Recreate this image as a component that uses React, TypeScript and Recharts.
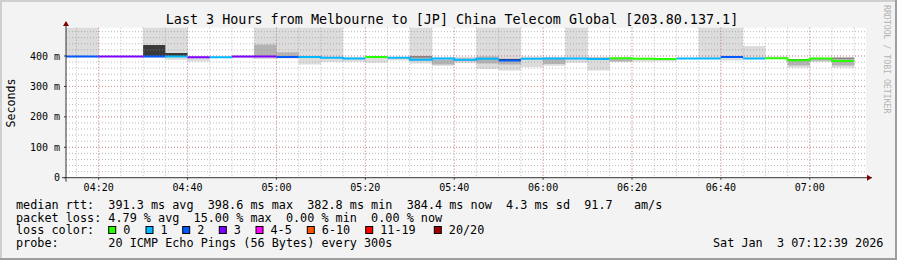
import React from 'react';
import {
  Area,
  CartesianGrid,
  ComposedChart,
  Line,
  ReferenceDot,
  ReferenceLine,
  XAxis,
  YAxis,
} from 'recharts';

const W = 897;
const H = 260;
const MONO = '"DejaVu Sans Mono", "Liberation Mono", monospace';

// 5 minute bins (start time of each step)
const binStarts = [
  '04:10', '04:15', '04:20', '04:25', '04:30', '04:35', '04:40', '04:45', '04:50', '04:55',
  '05:00', '05:05', '05:10', '05:15', '05:20', '05:25', '05:30', '05:35', '05:40', '05:45', '05:50', '05:55',
  '06:00', '06:05', '06:10', '06:15', '06:20', '06:25', '06:30', '06:35', '06:40', '06:45', '06:50', '06:55',
  '07:00', '07:05',
];

// median rtt in ms
const medianRtt = [
  398.5, 398.5, 398.5, 398.5, 398.5, 398, 396, 396, 398.5, 398,
  397, 397, 394, 392, 397, 394, 388, 392, 388, 391, 385, 391,
  392, 392, 390, 393, 391, 390, 392, 392, 397, 392, 393, 386,
  392, 383.5,
];

// lost pings out of 20
const lostPings = [
  2, 2, 3, 3, 2, 1, 3, 1, 3, 3,
  2, 1, 1, 1, 0, 1, 1, 1, 1, 1, 2, 1,
  1, 1, 1, 0, 0, 0, 1, 1, 2, 1, 0, 0,
  0, 0,
];

type Band = [number, number] | null;

// smoke bands (ms), outer light / inner mid / dense dark
const lightSmoke: Band[] = [
  [396, 600], [396, 600], null, null, [395, 600], [388, 600], [382, 398], null, [393, 400], [390, 600],
  [392, 600], [372, 600], [380, 600], [381, 396], [378, 398], [385, 396], [375, 600], [368, 396], [376, 397], [357, 600], [352, 600], [363, 398],
  [368, 397], [378, 600], [352, 394], [380, 396], [382, 394], [383, 393], null, [390, 600], [385, 600], [389, 433], [390, 398], [361, 390],
  [380, 394], [361, 395],
];

const midSmoke: Band[] = [
  null, null, null, null, null, null, null, null, null, [398, 438],
  [397, 412], [395, 400], null, null, null, null, [384, 398], [372, 388], [383, 392], [375, 398], [372, 392], null,
  [374, 390], null, null, [382, 390], null, null, null, null, null, null, null, [369, 386],
  [384, 390], [369, 392],
];

const darkSmoke: Band[] = [
  null, null, null, null, [400, 436], [399, 410], null, null, null, null,
  null, null, null, null, null, null, [396, 398], null, null, null, [387, 390], null,
  null, null, [392, 394], null, null, null, null, null, null, null, null, [388, 390],
  null, [392, 394],
];

const lossLabels = ['0', '1', '2', '3', '4-5', '6-10', '11-19', '20/20'];
const lossUpper = [0, 1, 2, 3, 5, 10, 19, 20];
const lossColors = ['#26ff00', '#00b8ff', '#0059ff', '#7e00ff', '#ff00ff', '#ff5500', '#ff0000', '#a10000'];
const legendBoxX = [108.7, 146, 182.7, 219.3, 256, 307.3, 365.7, 434.3];

const timeTicks = [20, 40, 60, 80, 100, 120, 140, 160, 180];
const timeTickLabels = ['04:20', '04:40', '05:00', '05:20', '05:40', '06:00', '06:20', '06:40', '07:00'];
const rttTicks = [0, 100, 200, 300, 400];
const rttTickLabels = ['0', '100 m', '200 m', '300 m', '400 m'];

const T0 = 12.65; // 04:12:39
const T1 = 192.65; // 07:12:39
const YMAX = 493;

const minorTime = Array.from({ length: 36 }, (_, i) => 15 + i * 5);
const minorRtt = Array.from({ length: 24 }, (_, i) => 20 + i * 20);

const toMin = (s: string) => {
  const [h, m] = s.split(':').map(Number);
  return h * 60 + m - 240;
};
const bucketOf = (n: number) => lossUpper.findIndex((u) => n <= u);

const rows = binStarts.flatMap((s, i) => {
  const t = toMin(s);
  const base = {
    median: medianRtt[i],
    bucket: bucketOf(lostPings[i]),
    light: lightSmoke[i],
    mid: midSmoke[i],
    dark: darkSmoke[i],
  };
  return [{ t, ...base }, { t: t + 5, ...base }];
});

const usedBuckets = Array.from(new Set(rows.map((r) => r.bucket)));

const title = 'Last 3 Hours from Melbourne to [JP] China Telecom Global [203.80.137.1]';

export default function App() {
  const legendFont = 11.8;
  return (
    <div style={{ position: 'relative', width: W, height: H }}>
      <style>{'body{margin:0}'}</style>
      <svg
        width={W}
        height={H}
        style={{ position: 'absolute', left: 0, top: 0 }}
        fontFamily={MONO}
      >
        <rect width={W} height={H} fill="#f3f3f3" />
        <rect x={0} y={0} width={W} height={2} fill="#cfcfcf" />
        <rect x={0} y={0} width={2} height={H} fill="#cfcfcf" />
        <rect x={0} y={H - 2} width={W} height={2} fill="#9e9e9e" />
        <rect x={W - 2} y={0} width={2} height={H} fill="#9e9e9e" />
        <text x={452} y={24} textAnchor="middle" fontSize={13.4} fill="#000">
          {title}
        </text>
        <text transform="translate(15,103) rotate(-90)" textAnchor="middle" fontSize={11.6} fill="#000">
          Seconds
        </text>
        <text transform="translate(884,5) rotate(90)" fontSize={8.2} fill="#b4b4b4">
          RRDTOOL / TOBI OETIKER
        </text>
        <g fontSize={legendFont} fill="#000" style={{ whiteSpace: 'pre' }}>
          <text x={16} y={208.5} xmlSpace="preserve">
            median rtt:  391.3 ms avg  398.6 ms max  382.8 ms min  384.4 ms now  4.3 ms sd  91.7   am/s
          </text>
          <text x={16} y={221.5} xmlSpace="preserve">
            packet loss: 4.79 % avg  15.00 % max  0.00 % min  0.00 % now
          </text>
          <text x={16} y={234} xmlSpace="preserve">
            loss color:
          </text>
          {lossLabels.map((l, i) => (
            <g key={l}>
              <rect x={legendBoxX[i]} y={226.5} width={7} height={7} fill={lossColors[i]} stroke="#000" strokeWidth={1} />
              <text x={legendBoxX[i] + 14.5} y={234}>
                {l}
              </text>
            </g>
          ))}
          <text x={16} y={247} xmlSpace="preserve">
            probe:       20 ICMP Echo Pings (56 Bytes) every 300s
          </text>
          <text x={713} y={247} xmlSpace="preserve">
            Sat Jan  3 07:12:39 2026
          </text>
        </g>
      </svg>
      <div style={{ position: 'absolute', left: 0, top: 0 }}>
        <ComposedChart
          width={W}
          height={H}
          data={rows}
          margin={{ top: 27.7, right: 31, bottom: 62.3, left: 0 }}
        >
          <XAxis
            dataKey="t"
            type="number"
            domain={[T0, T1]}
            allowDataOverflow
            ticks={timeTicks}
            interval={0}
            tickFormatter={(v) => timeTickLabels[timeTicks.indexOf(v)] ?? ''}
            height={20}
            axisLine={false}
            tickSize={2}
            tickMargin={4}
            tickLine={{ stroke: '#333' }}
            tick={{ fontFamily: MONO, fontSize: 10, fill: '#000' }}
          />
          <YAxis
            type="number"
            domain={[0, YMAX]}
            allowDataOverflow
            ticks={rttTicks}
            interval={0}
            tickFormatter={(v) => rttTickLabels[rttTicks.indexOf(v)] ?? ''}
            width={66}
            axisLine={false}
            tickSize={2}
            tickMargin={4}
            tickLine={{ stroke: '#333' }}
            tick={{ fontFamily: MONO, fontSize: 10, fill: '#000' }}
          />
          <CartesianGrid horizontal={false} vertical={false} fill="#ffffff" fillOpacity={1} />
          <Area
            type="linear"
            dataKey={(r) => r.light}
            stroke="none"
            fill="#dcdcdc"
            fillOpacity={1}
            dot={false}
            activeDot={false}
            isAnimationActive={false}
          />
          <Area
            type="linear"
            dataKey={(r) => r.mid}
            stroke="none"
            fill="#b3b3b3"
            fillOpacity={1}
            dot={false}
            activeDot={false}
            isAnimationActive={false}
          />
          <Area
            type="linear"
            dataKey={(r) => r.dark}
            stroke="none"
            fill="#3a3a3a"
            fillOpacity={1}
            dot={false}
            activeDot={false}
            isAnimationActive={false}
          />
          <CartesianGrid
            verticalValues={minorTime}
            horizontalValues={minorRtt}
            stroke="#8f8f8f"
            strokeOpacity={0.6}
            strokeDasharray="1 2"
            fill="none"
            zIndex={150}
          />
          <CartesianGrid
            verticalValues={timeTicks}
            horizontalValues={rttTicks.slice(1)}
            stroke="#e06a6a"
            strokeOpacity={0.6}
            strokeDasharray="1 2"
            fill="none"
            zIndex={160}
          />
          {usedBuckets.map((b) => (
            <Line
              key={b}
              type="linear"
              dataKey={(r) => (r.bucket === b ? r.median : null)}
              stroke={lossColors[b]}
              strokeWidth={2}
              dot={false}
              activeDot={false}
              connectNulls={false}
              isAnimationActive={false}
            />
          ))}
          <ReferenceLine
            segment={[{ x: 11.75, y: 0 }, { x: 194, y: 0 }]}
            stroke="#333"
            strokeWidth={1}
            ifOverflow="visible"
          />
          <ReferenceLine
            segment={[{ x: T0, y: -13 }, { x: T0, y: 510 }]}
            stroke="#333"
            strokeWidth={1}
            ifOverflow="visible"
          />
          <ReferenceDot
            x={T0}
            y={515}
            r={3}
            ifOverflow="visible"
            shape={(p: any) => (
              <path d={`M${p.cx},${p.cy} L${p.cx + 3},${p.cy + 5} L${p.cx - 3},${p.cy + 5} Z`} fill="#7f0000" />
            )}
          />
          <ReferenceDot
            x={194}
            y={0}
            r={3}
            ifOverflow="visible"
            shape={(p: any) => (
              <path d={`M${p.cx},${p.cy} L${p.cx - 5},${p.cy - 3} L${p.cx - 5},${p.cy + 3} Z`} fill="#7f0000" />
            )}
          />
        </ComposedChart>
      </div>
    </div>
  );
}
